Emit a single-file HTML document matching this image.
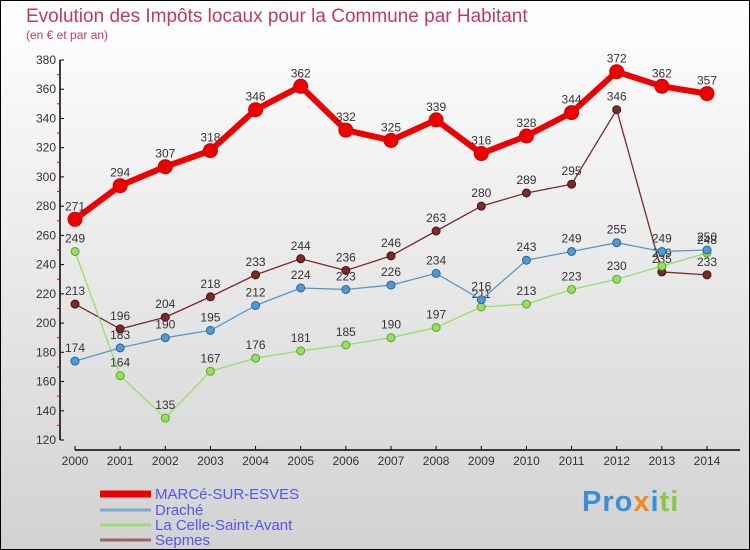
<!DOCTYPE html>
<html><head><meta charset="utf-8"><style>
body{margin:0}
#c{width:750px;height:550px;position:relative;overflow:hidden;font-family:"Liberation Sans",sans-serif}
</style></head><body>
<div id="c">
<svg id="s" width="750" height="550" xmlns="http://www.w3.org/2000/svg">
<defs><linearGradient id="bg" x1="0" y1="0" x2="0" y2="1"><stop offset="0" stop-color="#ffffff"/><stop offset="1" stop-color="#d2d2d2"/></linearGradient></defs>
<rect x="0.5" y="0.5" width="749" height="549" fill="url(#bg)" stroke="#000"/>
<text x="26" y="22" font-size="19" fill="#c0396b">Evolution des Impôts locaux pour la Commune par Habitant</text>
<text x="26" y="39" font-size="12" fill="#c0396b">(en € et par an)</text>
<g id="axes"></g><g id="plot"></g><g id="legend"></g>
</svg>
</div>
<script>
const years=["2000","2001","2002","2003","2004","2005","2006","2007","2008","2009","2010","2011","2012","2013","2014"];
const yTicks=[120,140,160,180,200,220,240,260,280,300,320,340,360,380];
const marce=[271,294,307,318,346,362,332,325,339,316,328,344,372,362,357];
const drache=[174,183,190,195,212,224,223,226,234,216,243,249,255,249,250];
const celle=[249,164,135,167,176,181,185,190,197,211,213,223,230,239,248];
const sepmes=[213,196,204,218,233,244,236,246,263,280,289,295,346,235,233];
const NS="http://www.w3.org/2000/svg";
const X=i=>75+i*(707-75)/14;
const Y=v=>440-(v-120)*380/260;
function mk(t,a,p){const e=document.createElementNS(NS,t);for(const k in a)e.setAttribute(k,a[k]);p.appendChild(e);return e;}
const ax=document.getElementById('axes'),pl=document.getElementById('plot'),lg=document.getElementById('legend');
let yl=mk('line',{x1:60,y1:60,x2:60,y2:440,stroke:'#000','stroke-width':1.5},ax);


yTicks.forEach(v=>{
 const y=Y(v);
 mk('line',{x1:60,y1:y,x2:64,y2:y,stroke:'#000'},ax);
 if(v<380)mk('line',{x1:57,y1:Y(v+10),x2:60,y2:Y(v+10),stroke:'#e00'},ax);
 const t=mk('text',{x:56,y:y+4,'font-size':12,fill:'#333','text-anchor':'end'},ax);
 t.textContent=v;
 
 
});
let xl=mk('line',{x1:75,y1:450,x2:740,y2:450,stroke:'#000','stroke-width':1.5},ax);


years.forEach((yr,i)=>{
 mk('line',{x1:X(i),y1:446,x2:X(i),y2:450,stroke:'#000'},ax);
 const t=mk('text',{x:X(i),y:465,'font-size':12,fill:'#333','text-anchor':'middle'},ax);
 t.textContent=yr;
 
 
});
function series(data,col,w,r,name,dark){
 const g=mk('g',{},pl);
 
 
 mk('polyline',{points:data.map((v,i)=>X(i)+','+Y(v)).join(' '),fill:'none',stroke:col,'stroke-width':w,'stroke-linejoin':'round'},g);
 data.forEach((v,i)=>{
  const c=mk('circle',{cx:X(i),cy:Y(v),r:r,fill:col,stroke:dark,'stroke-width':1},g);
  
  
  const t=mk('text',{x:X(i),y:Y(v)-9,'font-size':12,fill:'#333','text-anchor':'middle'},g);
  t.textContent=v;
  
  
 });
}
series(sepmes,'#7a2a2a',1.3,4,'series-sepmes','#4a1010');
series(celle,'#99dd66',1.3,4,'series-la-celle','#55aa22');
series(drache,'#5599cc',1.3,4,'series-drache','#2266aa');
series(marce,'#ee0000',6,7,'series-marce','#cc0000');
const leg=[['MARCé-SUR-ESVES','#ee0000',7],['Draché','#77aacc',3],['La Celle-Saint-Avant','#99dd77',3],['Sepmes','#996666',3]];
const ly=[492,508,523,538];
leg.forEach((l,i)=>{
 const g=mk('g',{},lg);
 
 
 mk('line',{x1:100,y1:ly[i]+2,x2:151,y2:ly[i]+2,stroke:l[1],'stroke-width':l[2]},g);
 const t=mk('text',{x:155,y:ly[i]+7,'font-size':15,fill:'#5555ee'},g);
 t.textContent=l[0];
});
</script>
<div style="position:absolute;left:582px;top:486px;font-size:29px;font-weight:bold;font-family:'Liberation Sans',sans-serif;letter-spacing:1px"><span style="color:#3a8fd8">Pro</span><span style="color:#f08a1c">x</span><span style="color:#3a8fd8">i</span><span style="color:#8cc63e">ti</span></div>
</body></html>
